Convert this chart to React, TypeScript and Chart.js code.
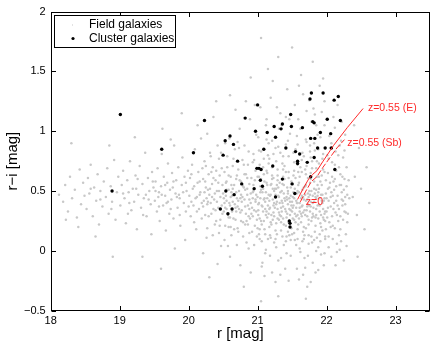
import { useEffect, useRef } from "react";
import { Chart, registerables } from "chart.js";
Chart.register(...registerables);

const xTickValues = [18, 19, 20, 21, 22, 23];
const yTickValues = [-0.5, 0, 0.5, 1, 1.5, 2];
const yTickLabels = ["\u22120.5", "0", "0.5", "1", "1.5", "2"];

const seriesNames = ["Field galaxies", "Cluster galaxies"];

const clusterGalaxies: number[][] = [
  [18.89,0.50],[19.01,1.14],[19.61,0.85],[20.07,0.82],[20.23,1.09],[20.46,0.35],[20.50,0.80],[20.53,0.92],
  [20.54,0.50],[20.57,0.31],[20.60,0.96],[20.63,0.35],[20.65,0.89],[20.66,0.47],[20.71,0.75],[20.77,0.56],
  [20.82,1.11],[20.95,0.52],[20.97,1.00],[21.00,1.22],[20.99,0.69],[21.02,0.69],[21.05,0.68],[21.04,0.59],
  [21.07,0.54],[21.09,0.85],[21.14,0.99],[21.22,0.71],[21.24,1.04],[21.26,0.95],[21.26,0.45],[21.34,1.02],
  [21.36,1.06],[21.36,0.60],[21.41,0.86],[21.48,1.14],[21.49,1.04],[21.50,0.56],[21.46,0.25],[21.47,0.23],
  [21.47,0.20],[21.54,0.48],[21.55,0.83],[21.58,0.75],[21.58,0.73],[21.61,0.81],[21.65,1.03],[21.72,0.74],
  [21.76,1.27],[21.78,1.32],[21.77,0.94],[21.77,0.62],[21.80,1.08],[21.82,1.07],[21.83,0.94],[21.82,0.78],
  [21.87,0.86],[21.91,0.99],[21.95,1.32],[21.98,0.86],[22.01,1.10],[22.06,0.98],[22.07,0.86],[22.11,1.26],
  [22.12,0.68],[22.17,1.29],[22.20,1.09]
];

const fieldGalaxies: number[][] = [
  [18.12,0.47],[18.18,0.41],[18.21,0.55],[18.25,0.33],[18.28,0.62],[18.31,0.44],[18.35,0.51],[18.38,0.28],[18.42,0.68],[18.44,0.39],[18.47,0.57],[18.49,0.46],[18.22,0.26],[18.40,0.20],
  [18.52,0.35],[18.54,0.61],[18.56,0.48],[18.58,0.72],[18.61,0.29],[18.63,0.53],[18.66,0.42],[18.68,0.64],[18.70,0.22],[18.72,0.50],[18.75,0.37],[18.77,0.58],[18.80,0.45],[18.82,0.69],[18.84,0.31],[18.87,0.54],[18.89,0.41],[18.92,0.76],[18.94,0.26],[18.96,0.49],[18.98,0.62],[18.65,0.12],[18.85,0.88],
  [19.01,0.38],[19.03,0.55],[19.05,0.67],[19.07,0.44],[19.09,0.23],[19.11,0.59],[19.13,0.49],[19.15,0.75],[19.17,0.34],[19.19,0.52],[19.21,0.41],[19.23,0.63],[19.25,0.18],[19.27,0.47],[19.29,0.71],[19.31,0.36],[19.33,0.56],[19.35,0.44],[19.37,0.82],[19.39,0.29],[19.41,0.61],[19.43,0.50],[19.45,0.39],[19.47,0.66],[19.49,0.53],[19.12,0.31],[19.26,0.60],[19.38,0.47],[19.46,0.14],[19.22,0.95],[19.33,-0.05],
  [19.51,0.42],[19.52,0.58],[19.54,0.33],[19.55,0.69],[19.57,0.49],[19.58,0.25],[19.60,0.54],[19.61,0.81],[19.63,0.38],[19.64,0.62],[19.66,0.46],[19.67,0.17],[19.69,0.57],[19.70,0.73],[19.72,0.31],[19.73,0.51],[19.75,0.43],[19.76,0.65],[19.78,0.27],[19.79,0.88],[19.81,0.48],[19.82,0.59],[19.84,0.36],[19.85,0.70],[19.87,0.44],[19.88,0.21],[19.90,0.55],[19.91,0.78],[19.93,0.40],[19.94,0.62],[19.96,0.33],[19.97,0.50],[19.99,0.67],[19.56,0.45],[19.68,0.40],[19.77,0.53],[19.86,0.47],[19.95,0.09],[19.62,1.02],[19.80,0.02],[19.74,0.93],
  [20.01,0.46],[20.02,0.61],[20.03,0.29],[20.05,0.72],[20.06,0.52],[20.07,0.38],[20.09,0.85],[20.10,0.44],[20.11,0.18],[20.13,0.57],[20.14,0.66],[20.15,0.35],[20.17,0.49],[20.18,0.94],[20.19,0.27],[20.21,0.60],[20.22,0.42],[20.23,0.75],[20.25,0.53],[20.26,0.11],[20.27,0.39],[20.29,0.64],[20.30,0.47],[20.31,0.82],[20.33,0.31],[20.34,0.56],[20.35,0.70],[20.37,0.43],[20.38,0.22],[20.39,0.59],[20.41,0.50],[20.42,0.88],[20.43,0.36],[20.45,0.63],[20.46,0.45],[20.47,0.04],[20.49,0.55],[20.04,0.41],[20.08,0.54],[20.12,0.33],[20.16,0.47],[20.20,0.69],[20.24,0.30],[20.28,0.51],[20.32,0.40],[20.36,0.61],[20.40,0.25],[20.44,0.77],[20.48,0.38],[20.13,1.05],[20.36,1.12],[20.21,-0.02],[20.42,-0.11],[20.27,0.98],[20.44,0.15],
  [20.50,0.48],[20.51,0.33],[20.52,0.66],[20.53,0.21],[20.54,0.57],[20.55,0.42],[20.56,0.79],[20.57,0.30],[20.58,0.51],[20.59,0.94],[20.60,0.38],[20.61,0.62],[20.62,0.13],[20.63,0.46],[20.64,0.71],[20.65,0.27],[20.66,0.55],[20.67,0.85],[20.68,0.36],[20.69,0.60],[20.70,0.44],[20.71,0.19],[20.72,0.68],[20.73,0.50],[20.74,1.02],[20.75,0.32],[20.76,0.58],[20.77,0.41],[20.78,0.76],[20.79,0.24],[20.80,0.53],[20.81,0.88],[20.82,0.37],[20.83,0.64],[20.84,0.07],[20.85,0.47],[20.86,0.72],[20.87,0.29],[20.88,0.56],[20.89,1.10],[20.90,0.40],[20.91,0.61],[20.92,0.16],[20.93,0.49],[20.94,0.81],[20.95,0.34],[20.96,0.59],[20.97,0.43],[20.98,0.97],[20.99,0.26],
  [20.52,0.40],[20.55,0.58],[20.58,0.28],[20.61,0.45],[20.64,0.52],[20.67,0.39],[20.70,0.63],[20.73,0.35],[20.76,0.47],[20.79,0.54],[20.82,0.22],[20.85,0.61],[20.88,0.43],[20.91,0.31],[20.94,0.50],[20.97,0.67],[20.53,0.90],[20.60,-0.05],[20.68,1.18],[20.75,-0.12],[20.83,1.25],[20.90,-0.18],[20.96,1.22],[20.57,0.04],[20.87,0.02],[20.99,0.12],[20.71,0.91],[20.93,0.74],
  [21.00,0.45],[21.01,0.30],[21.02,0.62],[21.03,0.18],[21.04,0.54],[21.05,0.83],[21.06,0.38],[21.07,0.49],[21.08,0.70],[21.09,0.25],[21.10,0.58],[21.11,0.41],[21.12,1.05],[21.13,0.33],[21.14,0.65],[21.15,0.10],[21.16,0.47],[21.17,0.77],[21.18,0.36],[21.19,0.55],[21.20,0.22],[21.21,0.92],[21.22,0.43],[21.23,0.61],[21.24,0.29],[21.25,0.52],[21.26,0.86],[21.27,0.39],[21.28,0.14],[21.29,0.68],[21.30,0.46],[21.31,0.32],[21.32,0.57],[21.33,1.15],[21.34,0.24],[21.35,0.50],[21.36,0.73],[21.37,0.37],[21.38,0.05],[21.39,0.60],[21.40,0.42],[21.41,0.89],[21.42,0.28],[21.43,0.53],[21.44,0.16],[21.45,0.66],[21.46,0.44],[21.47,0.98],[21.48,0.34],[21.49,0.58],
  [21.02,0.40],[21.05,0.25],[21.08,0.52],[21.11,0.35],[21.14,0.44],[21.17,0.20],[21.20,0.56],[21.23,0.38],[21.26,0.47],[21.29,0.27],[21.32,0.40],[21.35,0.33],[21.38,0.48],[21.41,0.21],[21.44,0.39],[21.47,0.30],[21.03,0.72],[21.09,0.64],[21.15,0.80],[21.21,0.70],[21.27,0.75],[21.33,0.82],[21.39,0.71],[21.45,0.79],[21.06,0.08],[21.12,0.01],[21.18,-0.04],[21.24,0.07],[21.30,-0.08],[21.36,0.12],[21.42,-0.02],[21.48,0.09],[21.04,1.20],[21.19,1.28],[21.31,1.02],[21.43,1.35],[21.10,-0.21],[21.26,-0.26],[21.40,-0.15],[21.22,1.42],[21.35,1.05],[21.13,0.93],[21.46,1.10],[21.07,-0.10],[21.49,0.19],[21.16,0.31],[21.28,0.55],[21.37,0.62],[21.44,0.50],[21.01,0.95],
  [21.50,0.41],[21.51,0.27],[21.52,0.63],[21.53,0.15],[21.54,0.52],[21.55,0.85],[21.56,0.36],[21.57,0.48],[21.58,0.72],[21.59,0.22],[21.60,0.57],[21.61,0.40],[21.62,1.02],[21.63,0.31],[21.64,0.66],[21.65,0.08],[21.66,0.45],[21.67,0.79],[21.68,0.34],[21.69,0.54],[21.70,0.19],[21.71,0.91],[21.72,0.43],[21.73,0.61],[21.74,0.26],[21.75,0.50],[21.76,0.88],[21.77,0.37],[21.78,0.12],[21.79,0.69],[21.80,0.46],[21.81,0.29],[21.82,0.58],[21.83,1.14],[21.84,0.21],[21.85,0.51],[21.86,0.75],[21.87,0.38],[21.88,0.03],[21.89,0.62],[21.90,0.44],[21.91,0.95],[21.92,0.30],[21.93,0.55],[21.94,0.17],[21.95,0.68],[21.96,0.42],[21.97,1.05],[21.98,0.33],[21.99,0.59],
  [21.52,0.38],[21.55,0.24],[21.58,0.50],[21.61,0.33],[21.64,0.46],[21.67,0.20],[21.70,0.55],[21.73,0.39],[21.76,0.47],[21.79,0.28],[21.82,0.41],[21.85,0.35],[21.88,0.49],[21.91,0.23],[21.94,0.40],[21.97,0.31],[21.53,0.74],[21.59,0.66],[21.65,0.82],[21.71,0.71],[21.77,0.78],[21.83,0.84],[21.89,0.73],[21.95,0.81],[21.56,0.05],[21.62,-0.01],[21.68,-0.06],[21.74,0.06],[21.80,-0.10],[21.86,0.11],[21.92,-0.03],[21.98,0.10],[21.54,1.22],[21.66,1.31],[21.78,1.08],[21.90,1.38],[21.60,-0.24],[21.72,-0.30],[21.84,-0.18],[21.63,1.47],[21.81,1.19],[21.57,0.96],[21.93,1.16],[21.69,-0.14],[21.99,0.18],[21.75,1.26],[21.87,0.97],[21.96,-0.12],[21.51,0.56],[21.64,0.37],[21.77,0.60],[21.89,0.52],[21.58,0.30],[21.70,0.42],[21.84,0.45],
  [22.00,0.44],[22.01,0.28],[22.02,0.65],[22.03,0.12],[22.04,0.53],[22.05,0.86],[22.06,0.37],[22.07,0.49],[22.08,0.74],[22.09,0.21],[22.10,0.58],[22.11,0.40],[22.12,1.03],[22.13,0.32],[22.14,0.67],[22.15,0.06],[22.16,0.46],[22.17,0.80],[22.18,0.35],[22.19,0.55],[22.20,0.18],[22.21,0.92],[22.22,0.43],[22.23,0.62],[22.24,0.26],[22.25,0.51],[22.26,0.84],[22.27,0.39],[22.28,0.14],[22.29,0.70],[22.30,0.47],[22.31,0.31],[22.32,0.59],
  [22.02,0.36],[22.05,0.57],[22.08,0.29],[22.11,0.51],[22.14,0.42],[22.17,0.25],[22.20,0.64],[22.23,0.38],[22.26,0.33],[22.29,0.54],[22.04,0.96],[22.10,1.12],[22.16,1.22],[22.22,1.08],[22.07,-0.05],[22.13,-0.12],[22.19,0.01],[22.25,-0.08],[22.03,0.77],[22.12,0.72],[22.24,0.78],
  [22.38,0.45],[22.41,0.62],[22.44,0.30],[22.47,0.86],[22.50,0.52],[22.55,0.18],[22.58,0.70],[22.62,0.40],[22.40,1.05],[22.45,-0.05],
  [20.90,1.45],[21.30,1.62],[21.50,1.70],[21.15,1.52],[21.80,1.58],[21.60,1.38],[20.60,1.30],[21.95,1.44],[20.40,1.25],[21.05,1.78],[19.90,1.15],
  [21.05,-0.42],[21.30,-0.38],[20.80,-0.30],[21.70,-0.40],[20.30,-0.22],[19.60,-0.15],[18.90,-0.05],[18.30,0.90],
  [20.21,0.37],[20.24,0.58],[20.26,0.44],[20.29,0.29],[20.31,0.52],[20.33,0.66],[20.36,0.35],[20.38,0.48],[20.41,0.41],[20.43,0.57],[20.46,0.26],[20.48,0.69],[20.51,0.44],[20.53,0.36],[20.55,0.51],[20.58,0.63],[20.60,0.28],[20.62,0.55],[20.64,0.41],[20.66,0.18],[20.69,0.49],[20.71,0.37],[20.74,0.59],[20.76,0.25],[20.78,0.45],[20.81,0.64],[20.83,0.31],[20.85,0.52],[20.88,0.15],[20.90,0.48],
  [20.23,0.49],[20.28,0.41],[20.34,0.45],[20.39,0.34],[20.44,0.50],[20.49,0.31],[20.54,0.46],[20.59,0.40],[20.63,0.33],[20.68,0.26],[20.72,0.42],[20.77,0.34],[20.81,0.43],[20.86,0.38],[20.89,0.27],
  [20.25,0.71],[20.32,0.79],[20.40,0.67],[20.47,0.82],[20.56,0.70],[20.65,0.77],[20.73,0.86],[20.80,0.72],[20.87,0.83],
  [20.27,0.19],[20.35,0.13],[20.45,0.21],[20.52,0.09],[20.61,0.20],[20.70,0.05],[20.79,0.12],[20.86,0.22],
  [20.92,0.36],[20.94,0.55],[20.96,0.21],[20.98,0.47],[21.00,0.62],[21.01,0.39],[21.03,0.27],[21.05,0.51],[21.06,0.68],[21.08,0.33],[21.10,0.44],[21.11,0.14],[21.13,0.57],[21.15,0.38],[21.16,0.73],[21.18,0.46],[21.19,0.24],[21.21,0.60],[21.23,0.32],[21.24,0.50],[21.26,0.17],[21.28,0.41],[21.29,0.63],[21.31,0.26],[21.33,0.49],[21.34,0.36],[21.36,0.56],[21.38,0.22],[21.39,0.44],[21.41,0.66],[21.43,0.31],[21.44,0.48],[21.46,0.13],[21.48,0.53],[21.49,0.38],
  [20.93,0.29],[20.97,0.41],[21.00,0.19],[21.04,0.44],[21.07,0.37],[21.12,0.49],[21.14,0.28],[21.17,0.42],[21.20,0.30],[21.22,0.52],[21.25,0.36],[21.27,0.23],[21.30,0.53],[21.32,0.30],[21.35,0.42],[21.37,0.27],[21.40,0.35],[21.42,0.45],[21.45,0.24],[21.47,0.41],
  [20.95,0.76],[21.02,0.84],[21.09,0.77],[21.16,0.90],[21.23,0.81],[21.30,0.87],[21.37,0.79],[21.44,0.92],
  [20.95,0.05],[21.03,0.10],[21.11,-0.02],[21.19,0.11],[21.27,0.03],[21.34,-0.06],[21.41,0.08],[21.48,-0.04],
  [21.06,-0.13],[21.21,-0.18],[21.33,-0.20],[21.45,-0.25],[21.13,1.10],[21.28,1.20],[21.41,1.12],
  [21.50,0.33],[21.52,0.49],[21.53,0.26],[21.55,0.61],[21.56,0.42],[21.58,0.18],[21.59,0.55],[21.61,0.36],[21.62,0.70],[21.64,0.29],[21.65,0.51],[21.67,0.43],[21.68,0.13],[21.70,0.64],[21.71,0.34],[21.73,0.48],[21.74,0.22],[21.76,0.57],[21.77,0.41],[21.79,0.75],[21.80,0.31],[21.82,0.52],[21.83,0.16],[21.85,0.44],[21.86,0.62],[21.88,0.27],[21.89,0.39],[21.91,0.58],[21.92,0.20],[21.94,0.47],[21.95,0.35],[21.97,0.66],[21.98,0.25],
  [21.51,0.45],[21.54,0.31],[21.57,0.40],[21.60,0.27],[21.63,0.44],[21.66,0.32],[21.69,0.47],[21.72,0.29],[21.75,0.38],[21.78,0.50],[21.81,0.36],[21.84,0.28],[21.87,0.46],[21.90,0.33],[21.93,0.42],[21.96,0.26],[21.99,0.48],
  [21.52,0.82],[21.58,0.89],[21.64,0.76],[21.70,0.93],[21.76,0.83],[21.82,0.90],[21.88,0.85],[21.94,0.77],
  [21.54,0.09],[21.61,0.02],[21.67,0.10],[21.73,-0.04],[21.79,0.07],[21.85,0.00],[21.91,0.08],[21.97,-0.02],
  [21.57,-0.15],[21.66,-0.20],[21.77,-0.26],[21.88,-0.16],[21.59,1.10],[21.71,1.17],[21.85,1.05],[21.97,1.25],
  [22.00,0.33],[22.02,0.52],[22.04,0.24],[22.06,0.45],[22.08,0.62],[22.10,0.35],[22.12,0.19],[22.14,0.54],[22.16,0.38],[22.18,0.70],[22.20,0.29],[22.22,0.49],[22.24,0.42],[22.26,0.60],[22.28,0.32],[22.30,0.24],[22.33,0.44],
  [22.01,0.80],[22.07,0.90],[22.13,0.83],[22.19,0.88],[22.27,0.97],[22.03,0.03],[22.09,0.10],[22.15,-0.01],[22.21,0.08],[22.29,0.04],
  [19.52,0.50],[19.57,0.37],[19.61,0.47],[19.66,0.55],[19.70,0.41],[19.74,0.35],[19.78,0.58],[19.83,0.45],[19.87,0.30],[19.92,0.49],[19.96,0.57],[20.00,0.37],[20.04,0.64],[20.08,0.24],[20.12,0.45],[20.16,0.58],[20.19,0.40],
  [19.05,0.48],[19.14,0.40],[19.24,0.52],[19.34,0.30],[19.42,0.43],[19.48,0.58],[18.72,0.43],[18.58,0.52],[18.88,0.35],
  [21.01,0.34],[21.04,0.49],[21.06,0.22],[21.09,0.43],[21.12,0.30],[21.14,0.55],[21.17,0.35],[21.19,0.47],[21.22,0.26],[21.24,0.40],[21.27,0.52],[21.29,0.35],[21.31,0.45],[21.34,0.29],[21.36,0.40],[21.38,0.55],[21.41,0.33],[21.43,0.43],[21.46,0.35],[21.48,0.46],
  [21.51,0.36],[21.53,0.44],[21.56,0.29],[21.58,0.40],[21.60,0.49],[21.63,0.24],[21.65,0.38],[21.67,0.53],[21.69,0.30],[21.72,0.37],[21.74,0.45],[21.76,0.33],[21.78,0.25],[21.80,0.40],[21.83,0.48],[21.85,0.30],[21.87,0.55],[21.90,0.38],[21.92,0.47],[21.95,0.28],[21.97,0.44],
  [21.02,0.14],[21.10,0.18],[21.18,0.13],[21.26,0.10],[21.34,0.17],[21.42,0.12],[21.50,0.14],[21.58,0.10],[21.66,0.16],[21.74,0.13],[21.82,0.09],[21.90,0.14],[21.98,0.12],
  [21.05,0.60],[21.13,0.67],[21.21,0.63],[21.29,0.59],[21.37,0.68],[21.45,0.61],[21.53,0.67],[21.61,0.62],[21.69,0.68],[21.77,0.65],[21.85,0.69],[21.93,0.63],
  [20.55,0.35],[20.62,0.49],[20.69,0.33],[20.75,0.44],[20.82,0.51],[20.88,0.35],[20.93,0.44],[20.58,0.20],[20.72,0.16],[20.84,0.25],[20.98,0.33],
  [22.03,0.42],[22.09,0.46],[22.15,0.30],[22.21,0.55],[22.27,0.45],[22.06,0.20],[22.18,0.13],[22.12,0.60]
];

const trackE: number[][] = [[21.58,0.43],[21.66,0.52],[21.74,0.60],[21.80,0.64],[21.86,0.67],[21.95,0.75],[22.10,0.88],[22.30,1.03],[22.53,1.19]];
const trackSb: number[][] = [[21.62,0.41],[21.70,0.50],[21.78,0.58],[21.86,0.62],[21.95,0.70],[22.05,0.78],[22.15,0.86],[22.26,0.93]];

const trackLabels = ["z=0.55 (E)", "z=0.55 (Sb)", "z=0"];
const trackLabelAnchors: number[][] = [[22.60, 1.196], [22.30, 0.897], [21.70, 0.404]];

const FONT = '"Liberation Sans", Arial, Helvetica, sans-serif';

const toPts = (arr: number[][]) => arr.map(([x, y]) => ({ x, y }));

export default function App() {
  const ref = useRef<HTMLCanvasElement | null>(null);
  useEffect(() => {
    document.body.style.margin = "0";
    const canvas = ref.current;
    if (!canvas) return;

    const framePlugin = {
      id: "frame",
      afterDatasetsDraw(chart: any) {
        const { ctx, chartArea, scales } = chart;
        const { left, right, top, bottom } = chartArea;
        const x = scales.x, y = scales.y;
        ctx.save();
        ctx.strokeStyle = "#000";
        ctx.lineWidth = 1;
        const L = Math.round(left) + 0.5, R = Math.round(right) - 0.5;
        const T = Math.round(top) + 0.5, B = Math.round(bottom) - 0.5;
        ctx.strokeRect(L, T, R - L, B - T);
        const tl = 4.5;
        ctx.beginPath();
        xTickValues.forEach((v) => {
          const px = Math.round(x.getPixelForValue(v)) + 0.5;
          ctx.moveTo(px, B); ctx.lineTo(px, B - tl);
          ctx.moveTo(px, T); ctx.lineTo(px, T + tl);
        });
        yTickValues.forEach((v) => {
          const py = Math.round(y.getPixelForValue(v)) + 0.5;
          ctx.moveTo(L, py); ctx.lineTo(L + tl, py);
          ctx.moveTo(R, py); ctx.lineTo(R - tl, py);
        });
        ctx.stroke();
        ctx.fillStyle = "#ff2a2a";
        ctx.font = "10.5px " + FONT;
        ctx.textAlign = "left";
        ctx.textBaseline = "middle";
        trackLabels.forEach((t, i) => {
          const [ax, ay] = trackLabelAnchors[i];
          ctx.fillText(t, x.getPixelForValue(ax), y.getPixelForValue(ay));
        });
        ctx.restore();
      },
      afterDraw(chart: any) {
        const { ctx, chartArea } = chart;
        const bx = Math.round(chartArea.left) + 3, by = Math.round(chartArea.top) + 3;
        const bw = 121, bh = 32;
        ctx.save();
        ctx.fillStyle = "#fff";
        ctx.fillRect(bx, by, bw, bh);
        ctx.strokeStyle = "#000";
        ctx.lineWidth = 1;
        ctx.strokeRect(bx + 0.5, by + 0.5, bw, bh);
        ctx.font = "12px " + FONT;
        ctx.fillStyle = "#000";
        ctx.textAlign = "left";
        ctx.textBaseline = "middle";
        ctx.fillText(seriesNames[0], bx + 35, by + 10);
        ctx.fillText(seriesNames[1], bx + 35, by + 23.5);
        ctx.fillStyle = "#c8c8c8";
        ctx.fillRect(bx + 18, by + 9.5, 1, 1);
        ctx.fillStyle = "#000";
        ctx.beginPath();
        ctx.arc(bx + 19, by + 23.5, 1.6, 0, Math.PI * 2);
        ctx.fill();
        ctx.restore();
      },
    };

    const chart = new Chart(canvas, {
      type: "scatter",
      data: {
        datasets: [
          {
            label: "z=0.55 (E)",
            data: toPts(trackE),
            type: "line",
            showLine: true,
            borderColor: "#ff2a2a",
            borderWidth: 1,
            pointRadius: 0,
            fill: false,
            order: 1,
          } as any,
          {
            label: "z=0.55 (Sb)",
            data: toPts(trackSb),
            type: "line",
            showLine: true,
            borderColor: "#ff2a2a",
            borderWidth: 1,
            borderDash: [6, 2],
            pointRadius: 0,
            fill: false,
            order: 1,
          } as any,
          {
            label: seriesNames[1],
            data: toPts(clusterGalaxies),
            pointRadius: 1.7,
            pointBackgroundColor: "#000",
            pointBorderWidth: 0,
            order: 2,
          },
          {
            label: seriesNames[0],
            data: toPts(fieldGalaxies),
            pointRadius: 1.25,
            pointBackgroundColor: "#c8c8c8",
            pointBorderWidth: 0,
            order: 10,
          },
        ],
      },
      options: {
        animation: false,
        responsive: false,
        maintainAspectRatio: false,
        events: [],
        layout: { padding: { top: 10, right: 6, left: 0, bottom: 0 } },
        plugins: { legend: { display: false }, tooltip: { enabled: false } },
        font: { family: FONT },
        scales: {
          x: {
            type: "linear",
            min: 18,
            max: 23.5,
            afterBuildTicks: (s: any) => { s.ticks = xTickValues.map((v) => ({ value: v })); },
            afterFit: (s: any) => { s.height = 34.3; },
            grid: { display: false, drawTicks: false },
            border: { display: false },
            ticks: { color: "#000", padding: 4, font: { size: 11, family: FONT }, maxRotation: 0 },
            title: { display: true, text: "r [mag]", color: "#000", font: { size: 15, family: FONT }, padding: { top: 0, bottom: 2 } },
          },
          y: {
            type: "linear",
            min: -0.5,
            max: 2,
            afterBuildTicks: (s: any) => { s.ticks = yTickValues.map((v) => ({ value: v })); },
            afterFit: (s: any) => { s.width = 50.7; },
            grid: { display: false, drawTicks: false },
            border: { display: false },
            ticks: {
              color: "#000",
              padding: 5,
              font: { size: 11, family: FONT },
              callback: (v: any) => { const i = yTickValues.indexOf(Number(v)); return i >= 0 ? yTickLabels[i] : ""; },
            },
            title: { display: true, text: "r\u2212i [mag]", color: "#000", font: { size: 15, family: FONT }, padding: { top: 4, bottom: 0 } },
          },
        },
      } as any,
      plugins: [framePlugin],
    });
    return () => chart.destroy();
  }, []);
  return (
    <div style={{ width: 436, height: 345 }}>
      <canvas ref={ref} width={436} height={345} style={{ display: "block" }} />
    </div>
  );
}
